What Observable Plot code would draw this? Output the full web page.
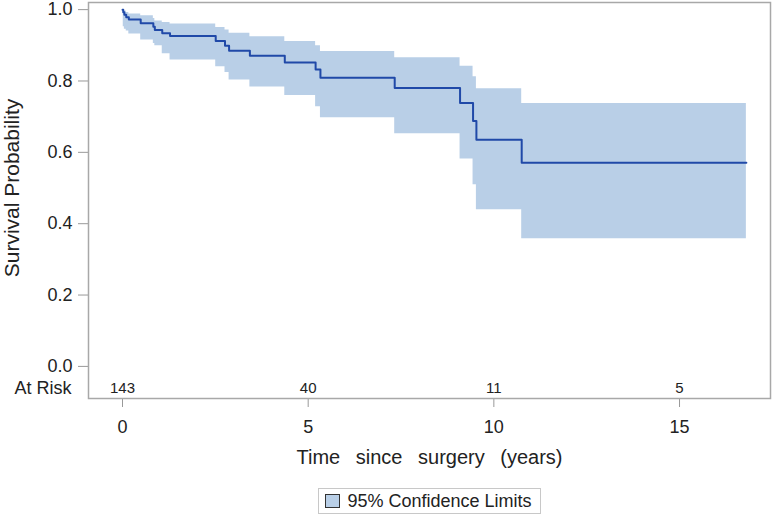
<!DOCTYPE html>
<html>
<head>
<meta charset="utf-8">
<script src="https://cdn.jsdelivr.net/npm/d3@7"></script>
<script src="https://cdn.jsdelivr.net/npm/@observablehq/plot@0.6"></script>
<style>
  body { margin: 0; background: #fff; font-family: "Liberation Sans", Arial, sans-serif; }
  #chart svg { display: block; }
  #legend { display: flex; justify-content: center; margin-top: 10px; padding-left: 84px; }
  #legend .box { display: inline-flex; align-items: center; border: 1px solid #c8c8c8; padding: 0 8px 0 6px; height: 24px; font-size: 18px; color: #222; }
  #legend .sw { width: 13px; height: 12px; background: #b9cfe7; border: 1.5px solid #333; margin-right: 7px; }
</style>
</head>
<body>
<div id="chart"></div>
<div id="legend"><div class="box"><div class="sw"></div><span>95% Confidence Limits</span></div></div>
<script>
// Kaplan–Meier step data (time in years)
const times    = [0, 0.02, 0.05, 0.10, 0.17, 0.49, 0.83, 0.87, 1.07, 1.28, 2.51, 2.76, 2.87, 3.43, 4.37, 5.20, 5.33, 7.33, 9.09, 9.44, 9.53, 10.75, 16.8];
const survival = [1.0, 0.993, 0.986, 0.979, 0.972, 0.962, 0.952, 0.943, 0.934, 0.926, 0.912, 0.899, 0.885, 0.871, 0.852, 0.832, 0.809, 0.780, 0.738, 0.688, 0.635, 0.571, 0.571];
const upper    = [1.0, 0.999, 0.996, 0.992, 0.988, 0.983, 0.975, 0.968, 0.964, 0.960, 0.950, 0.943, 0.934, 0.924, 0.911, 0.899, 0.883, 0.865, 0.841, 0.812, 0.778, 0.737, 0.737];
const lower    = [1.0, 0.952, 0.945, 0.940, 0.932, 0.915, 0.905, 0.899, 0.876, 0.859, 0.840, 0.824, 0.803, 0.783, 0.759, 0.728, 0.697, 0.652, 0.581, 0.509, 0.439, 0.358, 0.358];

// Numbers at risk
const riskTimes  = [0, 5, 10, 15];
const riskCounts = [143, 40, 11, 5];

const xTicks = [0, 5, 10, 15];
const yTicks = [0, 0.2, 0.4, 0.6, 0.8, 1.0];

const km = times.map((t, i) => ({t, s: survival[i], lo: lower[i], hi: upper[i]}));
const risk = riskTimes.map((t, i) => ({t, n: riskCounts[i]}));

const H = 478;
const xMin = -0.916, xMax = 17.45;
const yMin = -0.09, yMax = 1.02;

const plot = Plot.plot({
  width: 775,
  height: H,
  marginLeft: 88,
  marginRight: 5,
  marginTop: 2,
  marginBottom: H - 398,
  style: {fontFamily: '"Liberation Sans", Arial, sans-serif', fontSize: "18px", color: "#222", background: "#fff"},
  x: {domain: [xMin, xMax]},
  y: {domain: [yMin, yMax]},
  marks: [
    Plot.areaY(km, {x: "t", y1: "lo", y2: "hi", curve: "step-after", fill: "#b9cfe7", fillOpacity: 1}),
    Plot.line(km, {x: "t", y: "s", curve: "step-after", stroke: "#2049a8", strokeWidth: 2}),
    Plot.text(risk, {x: "t", y: -0.062, text: "n", fontSize: 15, fill: "#222"}),
    Plot.text(["At Risk"], {x: xMin, y: -0.062, text: d => d, textAnchor: "end", dx: -17, fontSize: 18, fill: "#222"}),
    Plot.axisY({ticks: yTicks, tickFormat: d3.format(".1f"), tickSize: 10, tickPadding: 6, stroke: "#999", fill: "#222", label: null, fontSize: 18}),
    Plot.axisX({ticks: xTicks, tickFormat: d3.format("d"), tickSize: 9, tickPadding: 13, stroke: "#999", fill: "#222", label: null, fontSize: 18}),
    Plot.text(["Time since surgery (years)"], {frameAnchor: "bottom", text: d => d, dy: 65, fontSize: 20, fill: "#222"}),
    Plot.text(["Survival Probability"], {x: xMin, y: 0.5, text: d => d, rotate: -90, dx: -76, fontSize: 21, fill: "#222"}),
    Plot.frame({stroke: "#a8a8a8", strokeWidth: 1.5})
  ]
});
d3.select(plot).selectAll("text")
  .filter(function() { return this.textContent.startsWith("Time since"); })
  .style("word-spacing", "10px");
document.getElementById("chart").append(plot);
</script>
</body>
</html>
